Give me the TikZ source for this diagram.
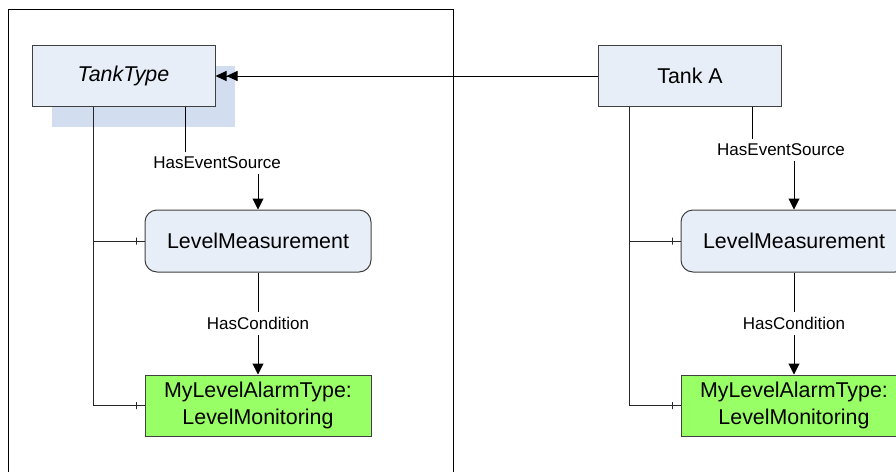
\documentclass[tikz,border=0pt]{standalone}
\usepackage{fontspec}
\setmainfont{Liberation Sans}
\usetikzlibrary{arrows.meta,calc,shadows}
\definecolor{boxblue}{RGB}{232,238,248}
\definecolor{shadeblue}{RGB}{210,221,239}
\definecolor{alarmgreen}{RGB}{153,255,102}
\definecolor{edgegray}{RGB}{64,64,64}
\begin{document}
\begin{tikzpicture}[x=0.5pt,y=-0.5pt,
  objbox/.style={draw=edgegray,fill=boxblue,line width=0.5pt,inner sep=0pt,
    minimum width=91.5pt,minimum height=30.5pt,font=\fontsize{10.7}{13.4}\selectfont},
  varbox/.style={objbox,rounded corners=6pt,minimum width=113pt,minimum height=31pt},
  alarmbox/.style={objbox,fill=alarmgreen,minimum width=113pt,minimum height=30.5pt,align=center},
  reflabel/.style={fill=white,inner xsep=1pt,inner ysep=2.5pt,font=\fontsize{8.5}{10}\selectfont},
  refline/.style={line width=0.5pt,-{Triangle[length=5.5pt,width=5.5pt]}},
  compline/.style={line width=0.5pt,draw=black!85},
  bartick/.style={draw=black!85,line width=0.5pt,inner sep=0pt,minimum width=0pt,minimum height=3.5pt}]
  \clip (0,0) rectangle (896,472);
  \draw[line width=0.5pt] (8,9) rectangle (453,490);
  \node[objbox,font=\fontsize{10.7}{13.4}\selectfont\itshape,
    general shadow={fill=shadeblue,shadow xshift=10pt,shadow yshift=-10pt}]
    (tanktype) at (123.5,76) {TankType};
  \node[objbox] (tanka) at (690,76) {Tank A};
  \node[varbox] (levelL) at (258,241) {LevelMeasurement};
  \node[alarmbox] (alarmL) at (258,405.5) {MyLevelAlarmType:\\LevelMonitoring};
  \node[varbox] (levelR) at (794,241) {LevelMeasurement};
  \node[alarmbox] (alarmR) at (794,405.5) {MyLevelAlarmType:\\LevelMonitoring};
  \draw[line width=0.5pt,-{Triangle[length=5.5pt,width=5pt]Triangle[length=5.5pt,width=5pt]}]
    (tanka.west) -- (tanktype.east);
  \draw[refline] ($(tanktype.south)+(61.5,0)$) -- ++(0,56)
    -| node[reflabel,pos=0.22]{HasEventSource} (levelL.north);
  \draw[refline] ($(tanka.south)+(62,0)$) -- ++(0,43)
    -| node[reflabel,pos=0.345]{HasEventSource} (levelR.north);
  \draw[refline] (levelL) -- node[reflabel]{HasCondition} (alarmL);
  \draw[refline] (levelR) -- node[reflabel]{HasCondition} (alarmR);
  \foreach \owner/\off/\part in {tanktype/-30.5/levelL,tanktype/-30.5/alarmL,
      tanka/-61/levelR,tanka/-61/alarmR} {
    \draw[compline] ($(\owner.south)+(\off,0)$) |- node[bartick,pos=1,xshift=-4pt]{} (\part.west);
  }
\end{tikzpicture}
\end{document}
